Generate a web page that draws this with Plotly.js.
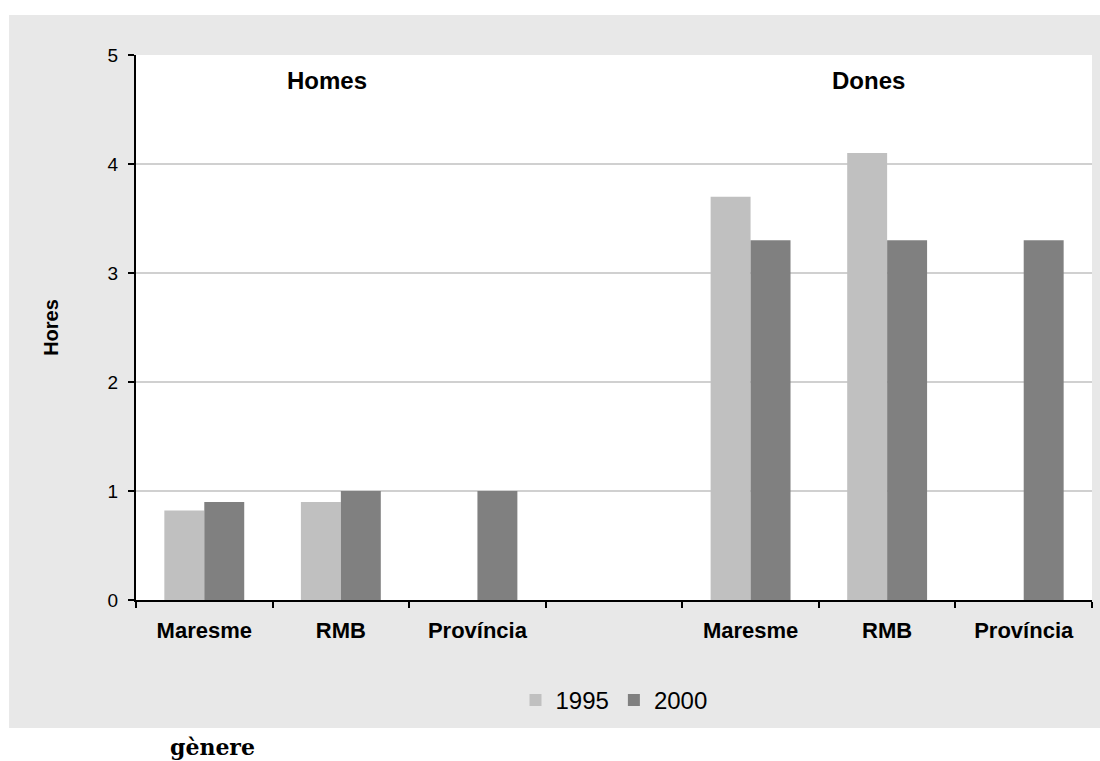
<!DOCTYPE html>
<html>
<head>
<meta charset="utf-8">
<script src="https://cdn.plot.ly/plotly-3.0.1.min.js"></script>
<style>
  html, body { margin: 0; padding: 0; background: #ffffff; }
  #chart { width: 1100px; height: 761px; }
</style>
</head>
<body>
<div id="chart"></div>
<script>
// Category ids (unique) and the labels shown under them
const categories = ["Maresme", "RMB", "Província", " ", "Maresme ", "RMB ", "Província "];
const tickLabels = ["Maresme", "RMB", "Província", "", "Maresme", "RMB", "Província"];
const groupLabels = ["Homes", "Dones"];
const seriesNames = ["1995", "2000"];
const values1995 = [0.82, 0.9, null, null, 3.7, 4.1, null];
const values2000 = [0.9, 1.0, 1.0, null, 3.3, 3.3, 3.3];
const yTickVals = [0, 1, 2, 3, 4, 5];

const traces = [
  { type: "bar", name: seriesNames[0], x: categories, y: values1995,
    marker: { color: "#c0c0c0", line: { width: 0 } }, hoverinfo: "x+y" },
  { type: "bar", name: seriesNames[1], x: categories, y: values2000,
    marker: { color: "#808080", line: { width: 0 } }, hoverinfo: "x+y" }
];

const layout = {
  width: 1100, height: 761,
  margin: { l: 136, r: 8, t: 55, b: 161, pad: 0 },
  paper_bgcolor: "#ffffff",
  plot_bgcolor: "rgba(0,0,0,0)",
  font: { family: "Liberation Sans, Arial, sans-serif", color: "#000000" },
  barmode: "group",
  bargap: 0.415,
  bargroupgap: 0,
  showlegend: true,
  legend: {
    orientation: "h", x: 0.5, xanchor: "center", y: -0.184, yanchor: "middle",
    font: { size: 24, color: "#000000" }, bgcolor: "rgba(0,0,0,0)",
    itemclick: false, itemdoubleclick: false, tracegroupgap: 0
  },
  xaxis: {
    type: "category",
    categoryorder: "array", categoryarray: categories,
    tickmode: "array", tickvals: categories, ticktext: tickLabels,
    tickson: "boundaries",
    range: [-0.5, 6.5],
    ticks: "outside", ticklen: 6, tickwidth: 2, tickcolor: "#000000",
    showline: true, linecolor: "#000000", linewidth: 2,
    showgrid: false, zeroline: false,
    tickfont: { size: 22, weight: "bold", color: "#000000" },
    ticklabelstandoff: 10,
    fixedrange: true, automargin: false
  },
  yaxis: {
    range: [0, 5],
    tickmode: "array", tickvals: yTickVals,
    ticks: "outside", ticklen: 6, tickwidth: 1.5, tickcolor: "#000000",
    showline: true, linecolor: "#000000", linewidth: 2,
    showgrid: true, gridcolor: "#d0d0d0", gridwidth: 1.3,
    zeroline: false,
    tickfont: { size: 19, color: "#000000" },
    ticklabelstandoff: 6,
    title: { text: "Hores", font: { size: 20, weight: "bold", color: "#000000" }, standoff: 44 },
    fixedrange: true, automargin: false
  },
  shapes: [
    { type: "rect", xref: "paper", yref: "paper", x0: -0.1328, x1: 1.01, y0: -0.2349, y1: 1.0734,
      fillcolor: "#e8e8e8", line: { width: 0 }, layer: "below" },
    { type: "rect", xref: "paper", yref: "paper", x0: 0, x1: 1, y0: 0, y1: 1,
      fillcolor: "#ffffff", line: { width: 0 }, layer: "below" }
  ],
  annotations: [
    { text: groupLabels[0], xref: "paper", yref: "paper", x: 0.2, y: 0.953,
      xanchor: "center", yanchor: "middle", showarrow: false,
      font: { size: 24, weight: "bold", color: "#000000" } },
    { text: groupLabels[1], xref: "paper", yref: "paper", x: 0.766, y: 0.953,
      xanchor: "center", yanchor: "middle", showarrow: false,
      font: { size: 24, weight: "bold", color: "#000000" } },
    { text: "gènere", xref: "paper", yref: "paper", x: 0.0805, y: -0.2697,
      xanchor: "center", yanchor: "middle", showarrow: false,
      font: { family: "DejaVu Serif, serif", size: 22, weight: "bold", color: "#000000" } }
  ]
};

Plotly.newPlot("chart", traces, layout, { displayModeBar: false, staticPlot: true });
</script>
</body>
</html>
